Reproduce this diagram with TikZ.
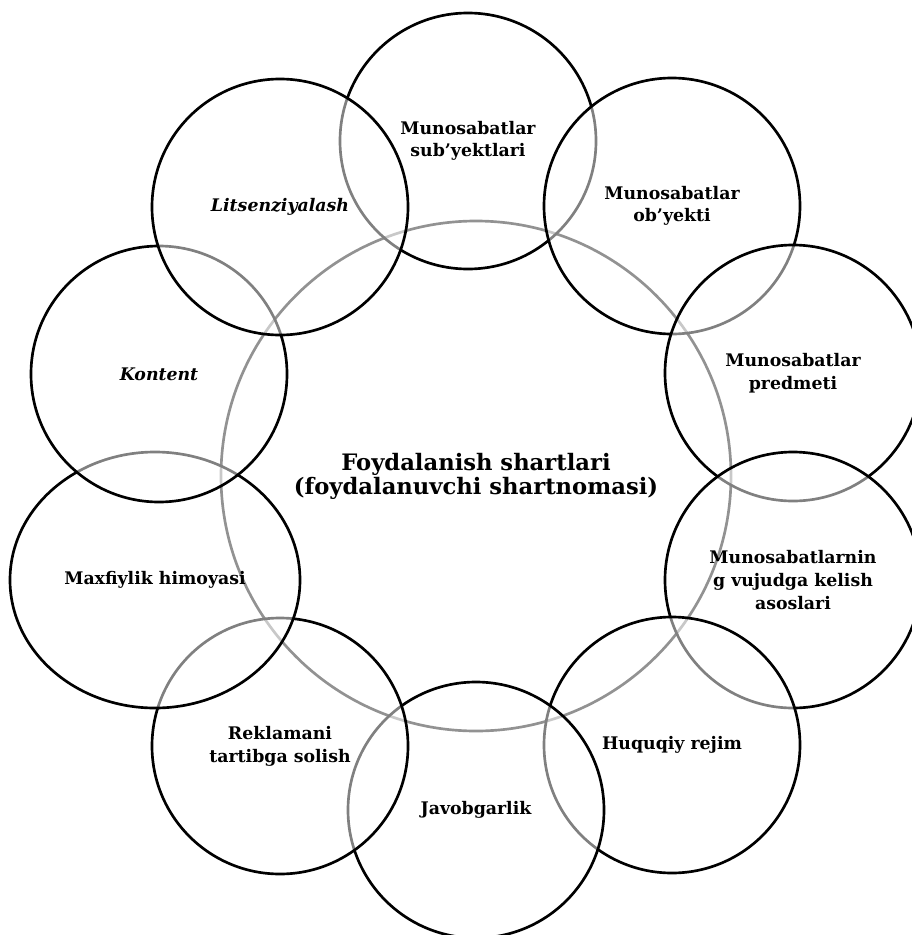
\documentclass[tikz,border=0pt]{standalone}
\usepackage{fontspec}
\setmainfont{DejaVu Serif}
\usetikzlibrary{shapes.geometric}
\begin{document}
\begin{tikzpicture}
  [x=0.75pt,y=-0.75pt,
   hub/.style={draw=black!85,circle,line width=2pt,minimum size=382.5pt,align=center,
     font=\bfseries\fontsize{17}{18}\selectfont},
   ring/.style={draw,circle,line width=2pt,fill=white,fill opacity=0.5,text opacity=1,
     minimum size=192pt,inner sep=0pt,align=center,font=\bfseries\fontsize{13}{17}\selectfont},]

\useasboundingbox (0,0) rectangle (912,935);

\node[hub] (hub) at (476,476) {Foydalanish shartlari\\(foydalanuvchi shartnomasi)};

\node[ring] (subj) at (468,141) {Munosabatlar\\sub’yektlari};
\node[ring] (obj) at (672,206) {Munosabatlar\\ob’yekti};
\node[ring] (pred) at (793,373) {Munosabatlar\\predmeti};
\node[ring] (asos) at (793,580) {Munosabatlarnin\\g vujudga kelish\\asoslari};
\node[ring] (rejim) at (672,745) {Huquqiy rejim};
\node[ring] (javob) at (476,810) {Javobgarlik};
\node[ring] (reklama) at (280,746) {Reklamani\\tartibga solish};
\node[ring,ellipse,minimum width=217.5pt] (maxf) at (155,580) {Maxfiylik himoyasi};
\node[ring] (kontent) at (159,374) {\itshape Kontent};
\node[ring] (lits) at (280,207) {\itshape Litsenziyalash};

\end{tikzpicture}
\end{document}
